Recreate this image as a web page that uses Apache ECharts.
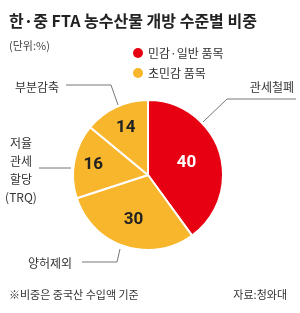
<!DOCTYPE html>
<html>
<head>
<meta charset="utf-8">
<script src="https://cdn.jsdelivr.net/npm/echarts@6/dist/echarts.min.js"></script>
<style>
  html, body { margin: 0; padding: 0; background: #fff; }
  #chart { width: 300px; height: 313px; }
</style>
</head>
<body>
<div id="chart"></div>
<script>
// 데이터
const categories = ['관세철폐', '양허제외', '저율\n관세\n할당\n(TRQ)', '부분감축'];
const values = [40, 30, 16, 14];
const groups = ['민감·일반 품목', '초민감 품목'];
const groupOf = [0, 1, 1, 1];

const colors = ['#e60012', '#f8b62d'];
const font = '"Noto Sans CJK KR", "Noto Sans", sans-serif';
const numFont = '"Liberation Sans Narrow", "Roboto", sans-serif';

let chart = echarts.init(document.getElementById('chart'));

// 바깥 라벨 위치/지시선
const outer = [
  { x: 294, y: 87, align: 'right', pts: [[203, 122], [227, 99], [296, 99]] },
  { x: 28, y: 263, align: 'left', pts: [[120, 249], [117, 262], [82, 262]] },
  { x: 21, y: 170, align: 'center', pts: [[71, 168], [55, 168], [39, 168]] },
  { x: 15, y: 87, align: 'left', pts: [[118, 105], [111, 85], [66, 85]] }
];
// 안쪽 숫자 위치 보정
const inner = [[0, 0], [-2, 6], [-15, -3], [-5, -11]];

const pieData = values.map((v, i) => ({
  name: categories[i],
  value: v,
  itemStyle: { color: colors[groupOf[i]] }
}));

let option = {
  title: [
    {
      text: '한·중 FTA 농수산물 개방 수준별 비중',
      left: 4, top: 8,
      textStyle: { fontFamily: font, fontSize: 16, fontWeight: 'bold', color: '#222' }
    },
    {
      text: '(단위:%)',
      left: 4, top: 35,
      textStyle: { fontFamily: font, fontSize: 11, fontWeight: 'normal', color: '#444' }
    },
    {
      text: '※비중은 중국산 수입액 기준',
      left: 4, top: 284,
      textStyle: { fontFamily: font, fontSize: 11, fontWeight: 'normal', color: '#333' }
    },
    {
      text: '자료:청와대',
      right: 8, top: 284,
      textStyle: { fontFamily: font, fontSize: 11, fontWeight: 'normal', color: '#333' }
    }
  ],
  legend: {
    data: groups,
    orient: 'vertical',
    left: 128, top: 42,
    icon: 'circle',
    itemWidth: 10, itemHeight: 10,
    itemGap: 8,
    selectedMode: false,
    textStyle: { fontFamily: font, fontSize: 12, color: '#333' }
  },
  series: [
    {
      type: 'pie',
      center: [148, 175],
      radius: 75,
      startAngle: 90,
      clockwise: true,
      silent: true,
      itemStyle: { borderColor: '#fff', borderWidth: 2 },
      label: {
        position: 'inside',
        formatter: '{c}',
        fontFamily: numFont,
        fontSize: 17,
        fontWeight: 'bold',
        color: '#222'
      },
      labelLayout: function (p) {
        return { dx: inner[p.dataIndex][0], dy: inner[p.dataIndex][1] };
      },
      data: pieData.map((d, i) => i === 0 ? Object.assign({}, d, { label: { color: '#fff' } }) : d)
    },
    {
      type: 'pie',
      center: [148, 175],
      radius: 75,
      startAngle: 90,
      clockwise: true,
      silent: true,
      itemStyle: { color: 'transparent', borderWidth: 0 },
      label: {
        show: true,
        position: 'outside',
        formatter: '{b}',
        overflow: 'none',
        width: 80,
        fontFamily: font,
        fontSize: 12,
        lineHeight: 18,
        color: '#333'
      },
      labelLine: { show: true, lineStyle: { color: '#777', width: 1 } },
      labelLayout: function (p) {
        const o = outer[p.dataIndex];
        return { x: o.x, y: o.y, align: o.align, verticalAlign: 'middle', labelLinePoints: o.pts };
      },
      data: values.map((v, i) => ({ name: categories[i], value: v }))
    },
    {
      // 범례용
      type: 'pie',
      radius: 0,
      center: [-50, -50],
      silent: true,
      label: { show: false },
      labelLine: { show: false },
      data: groups.map((g, i) => ({ name: g, value: 0, itemStyle: { color: colors[i] } }))
    }
  ]
};

chart.setOption(option);
</script>
</body>
</html>
